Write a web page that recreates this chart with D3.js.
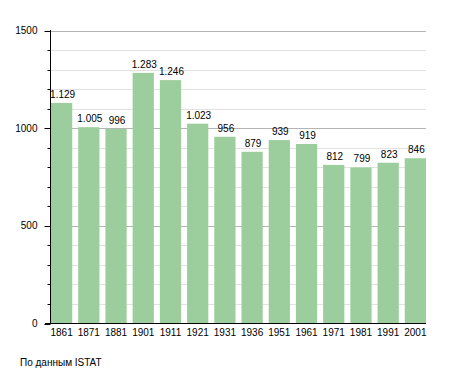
<!DOCTYPE html>
<html>
<head>
<meta charset="utf-8">
<script src="https://cdn.jsdelivr.net/npm/d3@7"></script>
<style>
  body { margin: 0; background: #fff; }
  text { font-family: "Liberation Sans", Arial, sans-serif; font-size: 10px; fill: #000; }
</style>
</head>
<body>
<svg id="chart" width="455" height="373"></svg>
<script>
// data
var years = ["1861", "1871", "1881", "1901", "1911", "1921", "1931", "1936", "1951", "1961", "1971", "1981", "1991", "2001"];
var population = [1129, 1005, 996, 1283, 1246, 1023, 956, 879, 939, 919, 812, 799, 823, 846];
var labels = ["1.129", "1.005", "996", "1.283", "1.246", "1.023", "956", "879", "939", "919", "812", "799", "823", "846"];
var majorTicks = [0, 500, 1000, 1500];
var source = "По данным  ISTAT";

// plot edges (note: "top" is a reserved window prop, so use other names)
var plotLeft = 50, plotRight = 426, plotTop = 30.5, plotBottom = 323.5;

var svg = d3.select("#chart");

var x = d3.scaleBand()
	.domain(years)
	.range([plotLeft + 1, plotRight])
	.paddingInner(0.22)
	.paddingOuter(0)
	.align(0);

var y = d3.scaleLinear()
	.domain([0, 1500])
	.range([plotBottom, plotTop]);

function py(d) { return Math.round(y(d)) + 0.5; }

// grid every 100
svg.append("g")
	.selectAll("line")
	.data(d3.range(100, 1501, 100))
	.enter().append("line")
	.attr("x1", plotLeft)
	.attr("x2", plotRight)
	.attr("y1", py)
	.attr("y2", py)
	.attr("stroke", function(d) { return d % 500 == 0 ? "#b4b4b4" : "#e2e2e2"; });

// bars
svg.append("g")
	.selectAll("rect")
	.data(population)
	.enter().append("rect")
	.attr("x", function(d, i) { return x(years[i]); })
	.attr("width", x.bandwidth())
	.attr("y", function(d) { return y(d); })
	.attr("height", function(d) { return plotBottom - y(d); })
	.attr("fill", "#9ccd9c");

// value labels
svg.append("g")
	.selectAll("text")
	.data(population)
	.enter().append("text")
	.attr("x", function(d, i) { return x(years[i]) + x.bandwidth() / 2 + 1; })
	.attr("y", function(d) { return y(d) - 5; })
	.attr("text-anchor", "middle")
	.text(function(d, i) { return labels[i]; });

// y axis with minor ticks
var yAxis = svg.append("g").attr("transform", "translate(" + (plotLeft + 0.5) + ",0)");
yAxis.append("line")
	.attr("y1", plotTop - 0.5).attr("y2", plotBottom)
	.attr("stroke", "#000");
yAxis.selectAll(".minor")
	.data(d3.range(0, 1501, 100).filter(function(d) { return d % 500 != 0; }))
	.enter().append("line")
	.attr("class", "minor")
	.attr("x1", -3).attr("x2", 0)
	.attr("y1", py).attr("y2", py)
	.attr("stroke", "#000");
yAxis.selectAll(".major")
	.data(majorTicks)
	.enter().append("line")
	.attr("class", "major")
	.attr("x1", -6).attr("x2", 0)
	.attr("y1", py).attr("y2", py)
	.attr("stroke", "#000");
yAxis.selectAll("text")
	.data(majorTicks)
	.enter().append("text")
	.attr("x", -13)
	.attr("y", function(d) { return y(d); })
	.attr("dy", "0.35em")
	.attr("text-anchor", "end")
	.text(function(d) { return d; });

// x axis
svg.append("line")
	.attr("x1", plotLeft - 5).attr("x2", plotRight)
	.attr("y1", plotBottom).attr("y2", plotBottom)
	.attr("stroke", "#000");
svg.append("g")
	.selectAll("text")
	.data(years)
	.enter().append("text")
	.attr("x", function(d) { return x(d) + x.bandwidth() / 2; })
	.attr("y", plotBottom + 12)
	.attr("text-anchor", "middle")
	.text(function(d) { return d; });

svg.append("text")
	.attr("x", 20)
	.attr("y", 366)
	.text(source);
</script>
</body>
</html>
